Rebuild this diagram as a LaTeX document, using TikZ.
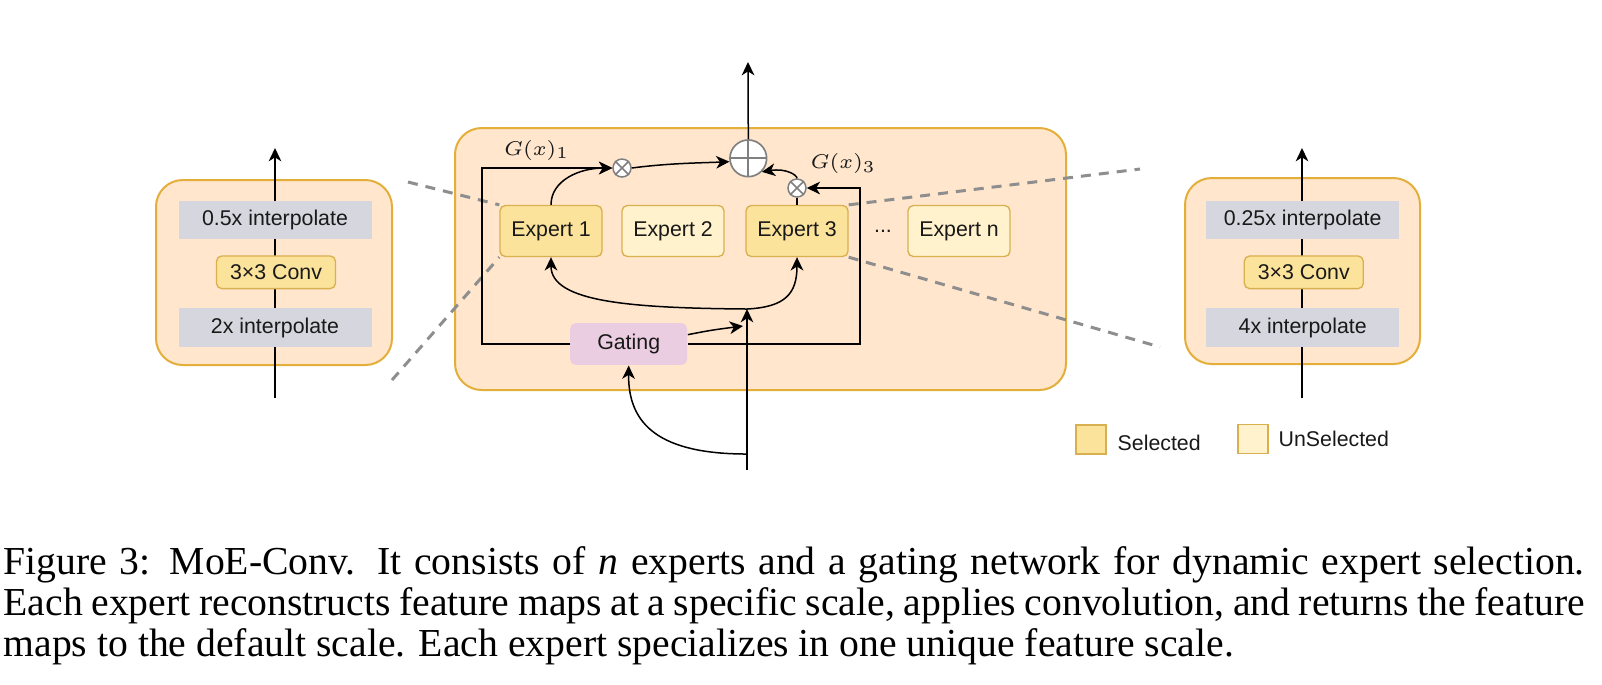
\documentclass[tikz,border=0pt]{standalone}
\usepackage[no-math]{fontspec}
\setmainfont{Liberation Serif}
\setsansfont{Liberation Sans}
\usepackage{tikz}
\usetikzlibrary{arrows.meta}
\usepackage{xcolor}
\definecolor{panelfill}{HTML}{FFE6CC}
\definecolor{panelline}{HTML}{E3AE3A}
\definecolor{selfill}{HTML}{FCE39B}
\definecolor{unselfill}{HTML}{FFF2CC}
\definecolor{expline}{HTML}{D9B050}
\definecolor{barfill}{HTML}{D6D6DE}
\definecolor{gatefill}{HTML}{EACDE0}
\definecolor{opline}{HTML}{808080}
\definecolor{dashline}{HTML}{8E8E8E}

\begin{document}
\begin{tikzpicture}[x=0.3pt,y=-0.3pt,
    >={Stealth[length=4pt,width=3.8pt,inset=1.2pt]},
    every node/.style={font=\sffamily\fontsize{6.4}{7.5}\selectfont, text=black!90},
    panel/.style={draw=panelline, fill=panelfill, line width=0.6pt, rounded corners=8pt},
    expsel/.style={draw=expline, fill=selfill, line width=0.4pt, rounded corners=1.6pt,
        minimum width=30.6pt, minimum height=15.3pt, inner sep=0pt},
    expuns/.style={expsel, fill=unselfill},
    bar/.style={fill=barfill, minimum width=57.9pt, minimum height=11.55pt, inner sep=0pt},
    conv/.style={expsel, minimum width=35.7pt, minimum height=9.8pt},
    gatebox/.style={fill=gatefill, rounded corners=1.6pt, minimum width=35.1pt,
        minimum height=12.5pt, inner sep=0pt},
    sumop/.style={circle, draw=opline, fill=white, line width=0.5pt, minimum size=11pt, inner sep=0pt},
    mulop/.style={circle, draw=opline, fill=white, line width=0.45pt, minimum size=5.4pt, inner sep=0pt},
    flow/.style={line width=0.45pt},
    zoomline/.style={draw=dashline, line width=0.9pt, dash pattern=on 3pt off 2.4pt},
    glabel/.style={font=\fontsize{5.9}{7}\selectfont},
    keybox/.style={draw=expline, line width=0.5pt, minimum width=9pt, minimum height=8.7pt, inner sep=0pt}]
    \useasboundingbox (0,0) rectangle (1602,684);

    % Panels
    \draw[panel] (156,180) rectangle (392,365);
    \draw[panel] (455,128) rectangle (1066,390);
    \draw[panel] (1185,178) rectangle (1420,364);

    % Left expert (scale 0.5)
    \coordinate (lin) at (275,398);
    \coordinate (lout) at (275,148);
    \draw[flow,->] (lin) -- (lout);
    \node[bar] (ldown) at (275,220) {0.5x interpolate};
    \node[conv] (lconv) at (276,272.3) {3\texttimes3 Conv};
    \node[bar] (lup) at (275,327.5) {2x interpolate};

    % Right expert (scale 0.25)
    \coordinate (rin) at (1302,398);
    \coordinate (rout) at (1302,148);
    \draw[flow,->] (rin) -- (rout);
    \node[bar] (rdown) at (1302.7,220) {0.25x interpolate};
    \node[conv] (rconv) at (1303.8,272.3) {3\texttimes3 Conv};
    \node[bar] (rup) at (1302.7,327.5) {4x interpolate};

    % Experts
    \node[expsel] (e1) at (551,231) {Expert 1};
    \node[expuns] (e2) at (673,231) {Expert 2};
    \node[expsel] (e3) at (797,231) {Expert 3};
    \node (dots) at (883,231) {...};
    \node[expuns] (en) at (959,231) {Expert n};

    % Gating and operators
    \node[gatebox] (gate) at (628.7,344) {Gating};
    \node[sumop] (plus) at (748.3,158.3) {};
    \draw[opline, line width=0.5pt] (plus.north) -- (plus.south) (plus.west) -- (plus.east);
    \node[mulop] (o1) at (622,168) {};
    \draw[opline, line width=0.45pt] (o1.north west) -- (o1.south east) (o1.north east) -- (o1.south west);
    \node[mulop] (o3) at (797,188) {};
    \draw[opline, line width=0.45pt] (o3.north west) -- (o3.south east) (o3.north east) -- (o3.south west);
    \node[glabel] (g1) at (536.7,150) {$G(x)_1$};
    \node[glabel] (g3) at (843.3,163.3) {$G(x)_3$};

    % Zoom lines
    \draw[zoomline] (408,182) -- (e1.north west);
    \draw[zoomline] (392,380) -- (e1.south west);
    \draw[zoomline] (e3.north east) -- (1140,169);
    \draw[zoomline] (e3.south east) -- (1160,347);

    % Connectors
    \coordinate (J) at (747,309);
    \coordinate (gin) at (743,326);
    \coordinate (vin) at (747,470);
    \coordinate (vsplit) at (747,454);
    \coordinate (out) at (748,62);
    \draw[flow,->] (vin) -- (J);
    \draw[flow,->] (J) .. controls (630,308) and (551,302) .. (e1.south);
    \draw[flow,->] (J) .. controls (785,307) and (797,294) .. (e3.south);
    \draw[flow,->] (gate.9) .. controls (712,330) .. (gin);
    \draw[flow,->] (vsplit) .. controls (660,454) and (628,425) .. (gate.south);
    \draw[flow,->] (gate.west) -| (482,168) -- (o1.west);
    \draw[flow,->] (gate.east) -| (860,188) -- (o3.east);
    \draw[flow,->] (e1.north) .. controls (551,180) and (580,168) .. (o1.west);
    \draw[flow] (e3.north) -- (o3.south);
    \draw[flow,->] (o3.north) .. controls (797,175) and (786,168) .. (plus.-45);
    \draw[flow,->] (o1.east) .. controls (670,163) and (700,163) .. (plus.190);
    \draw[flow,->] (plus.north) -- (out);

    % Legend
    \node[keybox, fill=selfill] (ksel) at (1091,439.7) {};
    \node[anchor=west, inner sep=0pt] (tsel) at (1117,442.7) {Selected};
    \node[keybox, fill=unselfill] (kuns) at (1253.3,439) {};
    \node[anchor=west, inner sep=0pt] (tuns) at (1278,439.3) {UnSelected};

    % Caption
    \node[anchor=base west, inner sep=0pt, text width=474.3pt, align=justify,
        font=\rmfamily\fontsize{11.9}{12.3}\selectfont, text=black] (caption) at (3,574.3)
        {Figure 3: MoE-Conv. It consists of \textit{n} experts and a gating network for dynamic expert selection.\linebreak
        Each expert reconstructs feature maps at a specific scale, applies convolution, and returns the feature\linebreak
        maps to the default scale. Each expert specializes in one unique feature scale.};
\end{tikzpicture}
\end{document}
